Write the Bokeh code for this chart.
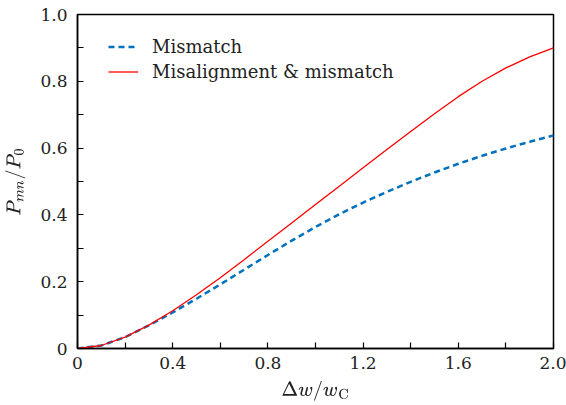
from bokeh.plotting import figure
from bokeh.models import Range1d, Legend, LegendItem, FixedTicker
from bokeh.embed import file_html
from bokeh.resources import INLINE

# Normalised power versus relative waist change
dw = [0.0, 0.1, 0.2, 0.3, 0.4, 0.5, 0.6, 0.7, 0.8, 0.9, 1.0,
      1.1, 1.2, 1.3, 1.4, 1.5, 1.6, 1.7, 1.8, 1.9, 2.0]
mismatch = [0.0, 0.009, 0.034, 0.069, 0.108, 0.149, 0.192, 0.236, 0.280, 0.323, 0.364,
            0.402, 0.437, 0.469, 0.499, 0.527, 0.553, 0.577, 0.599, 0.619, 0.638]
misalign_mismatch = [0.0, 0.009, 0.034, 0.070, 0.113, 0.161, 0.212, 0.266, 0.321, 0.376, 0.431,
                     0.486, 0.541, 0.596, 0.650, 0.703, 0.754, 0.800, 0.840, 0.873, 0.900]

x_ticks = [0.0, 0.4, 0.8, 1.2, 1.6, 2.0]
x_tick_labels = ["0", "0.4", "0.8", "1.2", "1.6", "2.0"]
y_ticks = [0.0, 0.2, 0.4, 0.6, 0.8, 1.0]
y_tick_labels = ["0", "0.2", "0.4", "0.6", "0.8", "1.0"]

FONT = "DejaVu Serif"

p = figure(width=566, height=405, output_backend="svg", toolbar_location=None,
           x_range=Range1d(0, 2), y_range=Range1d(0, 1),
           min_border_left=77, min_border_right=13, min_border_top=14, min_border_bottom=57)
p.grid.visible = False
p.outline_line_color = "black"
p.outline_line_width = 1.5

r_blue = p.line(dw, mismatch, line_color="#0072BD", line_width=2.5, line_dash="6 4")
r_red = p.line(dw, misalign_mismatch, line_color="#FF0000", line_width=1.3)

p.xaxis.ticker = FixedTicker(ticks=x_ticks, minor_ticks=[0.2, 0.6, 1.0, 1.4, 1.8])
p.yaxis.ticker = FixedTicker(ticks=y_ticks, minor_ticks=[0.1, 0.3, 0.5, 0.7, 0.9])
p.xaxis.major_label_overrides = dict(zip(x_ticks, x_tick_labels))
p.yaxis.major_label_overrides = dict(zip(y_ticks, y_tick_labels))

for ax in (p.xaxis, p.yaxis):
    ax.axis_line_width = 1.5
    ax.axis_line_color = "black"
    ax.major_tick_in = 6
    ax.major_tick_out = 0
    ax.minor_tick_in = 6
    ax.minor_tick_out = 0
    ax.major_tick_line_width = 1.2
    ax.minor_tick_line_width = 1.2
    ax.major_label_text_font = FONT
    ax.major_label_text_font_size = "17px"
    ax.major_label_text_color = "#222222"
    ax.axis_label_text_font = FONT
    ax.axis_label_text_font_size = "17px"
    ax.axis_label_text_font_style = "normal"
    ax.axis_label_text_color = "#222222"

p.xaxis.major_label_standoff = 8
p.yaxis.major_label_standoff = 10
p.xaxis.axis_label = r"$$\Delta w/w_{\mathrm{C}}$$"
p.yaxis.axis_label = r"$$P_{mn}/P_0$$"
p.xaxis.axis_label_standoff = 9
p.yaxis.axis_label_standoff = 12

legend = Legend(items=[LegendItem(label="Mismatch", renderers=[r_blue]),
                       LegendItem(label="Misalignment & mismatch", renderers=[r_red])],
                location=(31, 264), orientation="vertical")
legend.border_line_color = None
legend.background_fill_alpha = 0
legend.padding = 0
legend.margin = 0
legend.spacing = 0
legend.glyph_width = 30
legend.glyph_height = 25
legend.label_height = 25
legend.label_standoff = 14
legend.label_text_font = FONT
legend.label_text_font_size = "18px"
legend.label_text_color = "#222222"
p.add_layout(legend, "center")

open("out.html", "w").write(file_html(p, INLINE))
